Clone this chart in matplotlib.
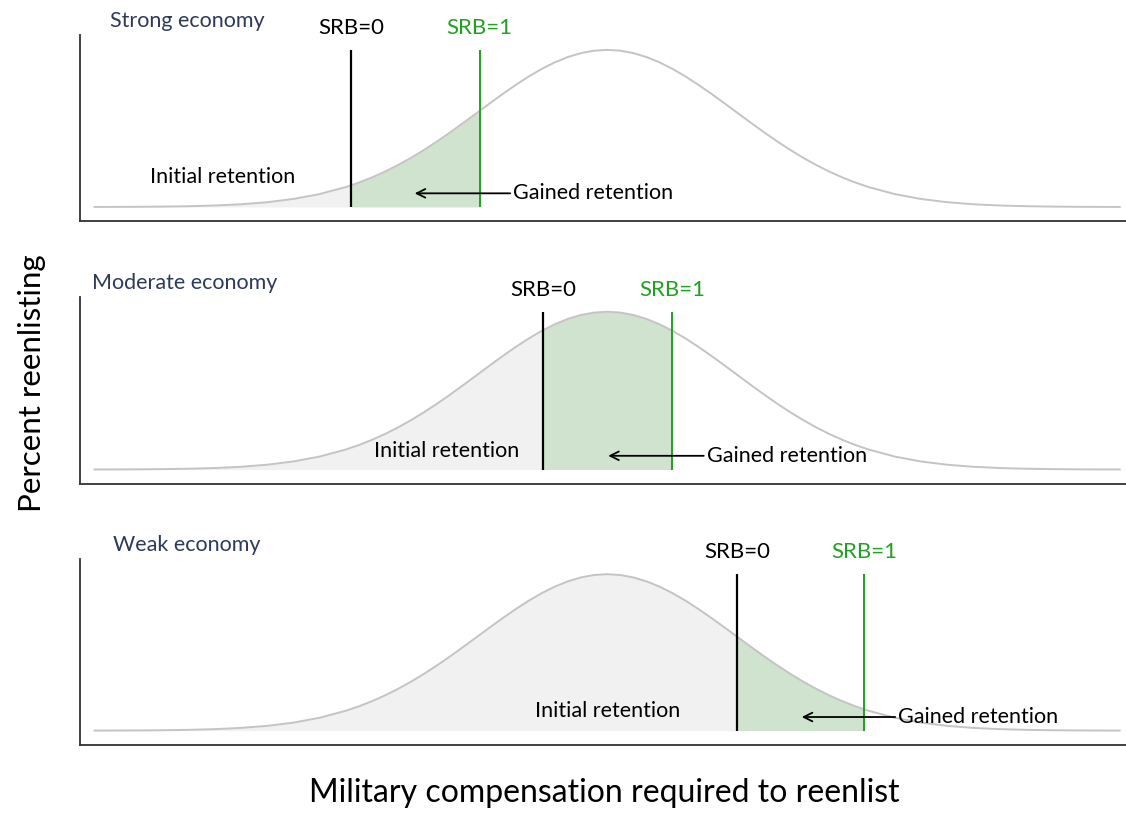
import numpy as np
import matplotlib.pyplot as plt

plt.rcParams['font.family'] = ['Lato', 'DejaVu Sans']

# bell curve (same shape in all three panels)
curve_x = [1.4, 2.9, 5.4, 7.9, 10.4, 12.9, 15.4, 17.9, 20.4, 22.9, 25.4, 27.9,
           30.4, 32.9, 35.4, 37.9, 40.4, 42.9, 45.4, 47.9, 50.4,
           52.9, 55.4, 57.9, 60.4, 62.9, 65.4, 67.9, 70.4, 72.9, 75.4,
           77.9, 80.4, 82.9, 85.4, 87.9, 90.4, 92.9, 95.4, 97.9, 99.4,
           # extra readings around the hump
           26.65, 29.15, 31.65, 34.15, 36.65, 39.15, 41.65, 44.15, 46.65, 49.15,
           51.65, 54.15, 56.65, 59.15, 61.65, 64.15, 66.65, 69.15, 71.65, 74.15]
curve_y = [0.0004, 0.0006, 0.0012, 0.0026, 0.0051, 0.0096, 0.0174, 0.0305,
           0.0511, 0.0821, 0.1267, 0.1877, 0.2666, 0.3634, 0.4754, 0.5967,
           0.7186, 0.8304, 0.9207, 0.9796, 1.0,
           0.9796, 0.9207, 0.8304, 0.7186, 0.5967, 0.4754, 0.3634, 0.2666,
           0.1877, 0.1267, 0.0821, 0.0511, 0.0305, 0.0174, 0.0096, 0.0051,
           0.0026, 0.0012, 0.0006, 0.0004,
           0.1550, 0.2248, 0.3129, 0.4178, 0.5354, 0.6582, 0.7764, 0.8790,
           0.9546, 0.9949,
           0.9949, 0.9546, 0.8790, 0.7764, 0.6582, 0.5354, 0.4178, 0.3129,
           0.2248, 0.1550]

panel_titles = ['Strong economy', 'Moderate economy', 'Weak economy']
srb0 = [25.9, 44.3, 62.8]
srb1 = [38.2, 56.6, 75.0]
initial_x = [13.6, 35.1, 50.4]
initial_y = [0.19, 0.115, 0.126]
arrow_head = [32.0, 50.5, 69.0]
gained_x = [41.4, 59.9, 78.2]

# axes boxes in figure fraction [left, bottom, width, height]
boxes = [[0.071, 0.728, 0.929, 0.229],
         [0.071, 0.405, 0.929, 0.230],
         [0.071, 0.084, 0.929, 0.228]]
title_x = [0.029, 0.012, 0.032]

curve_col = '#c4c4c4'
gray_fill = '#f1f1f1'
green_fill = '#cfe3cf'
green_line = '#22a022'
navy = '#2e3a5c'

fig = plt.figure(figsize=(11.26, 8.13), dpi=100)
order = np.argsort(curve_x)
cx = np.array(curve_x)[order]
cy = np.array(curve_y)[order]


def region(lo, hi):
    inside = (cx > lo) & (cx < hi)
    xs = np.concatenate([[lo], cx[inside], [hi]])
    ys = np.interp(xs, cx, cy)
    return xs, ys


for i in range(3):
    ax = fig.add_axes(boxes[i])
    xs, ys = region(cx[0], srb0[i])
    ax.fill_between(xs, 0, ys, color=gray_fill, lw=0)
    xs, ys = region(srb0[i], srb1[i])
    ax.fill_between(xs, 0, ys, color=green_fill, lw=0)
    ax.plot(cx, cy, color=curve_col, lw=1.4)

    ax.vlines(srb0[i], 0, 1.0, color='black', lw=1.6)
    ax.vlines(srb1[i], 0, 1.0, color=green_line, lw=1.4)
    ax.text(srb0[i], 1.14, 'SRB=0', ha='center', va='center', fontsize=16,
            color='black', clip_on=False)
    ax.text(srb1[i], 1.14, 'SRB=1', ha='center', va='center', fontsize=16,
            color=green_line, clip_on=False)

    ax.text(initial_x[i], initial_y[i], 'Initial retention', ha='center',
            va='center', fontsize=15.5)
    ax.annotate('Gained retention', xy=(arrow_head[i], 0.087),
                xytext=(gained_x[i], 0.087), ha='left', va='center',
                fontsize=15.5,
                arrowprops=dict(arrowstyle='->', relpos=(0, 0.5), shrinkA=0,
                                shrinkB=0, lw=1.3, color='black'))

    ax.text(title_x[i], 1.075, panel_titles[i], transform=ax.transAxes,
            ha='left', va='center', fontsize=15.5, color=navy)

    ax.set_xlim(0, 100)
    ax.set_ylim(-0.09, 1.095)
    ax.set_xticks([])
    ax.set_yticks([])
    for s in ['top', 'right']:
        ax.spines[s].set_visible(False)
    for s in ['left', 'bottom']:
        ax.spines[s].set_color('#333333')
        ax.spines[s].set_linewidth(1.3)

fig.text(0.028, 0.529, 'Percent reenlisting', rotation=90, ha='center',
         va='center', fontsize=22.5)
fig.text(0.537, 0.025, 'Military compensation required to reenlist',
         ha='center', va='center', fontsize=23)

fig.savefig('out.png', dpi=100)
